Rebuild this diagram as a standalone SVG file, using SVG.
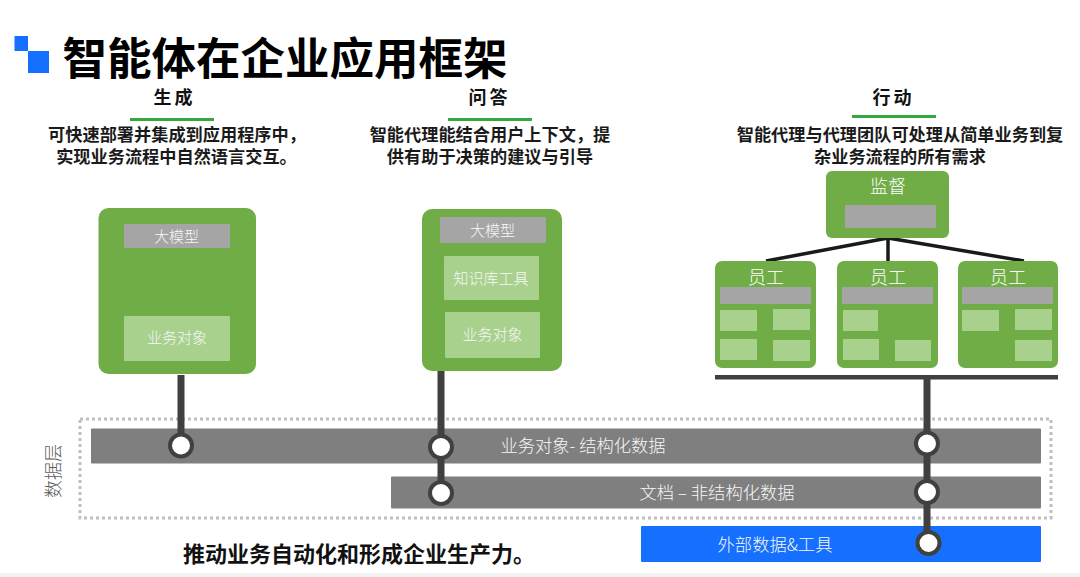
<svg xmlns="http://www.w3.org/2000/svg" width="1080" height="577" viewBox="0 0 1080 577">
<style>
text{font-family:"Noto Sans CJK SC","Noto Sans",sans-serif;text-anchor:middle;dominant-baseline:central}
.title{font-size:44.500px;font-weight:700;fill:#000}
.head{font-size:18px;font-weight:700;fill:#111;letter-spacing:3px}
.desc{font-size:17.200px;font-weight:700;fill:#1a1a1a}
.lab{font-size:15px;fill:#f7f7f7;font-weight:300}
.cap{font-size:18px;fill:#fff;font-weight:300}
.bar{font-size:17.300px;fill:#f7f7f7;font-weight:300}
.g{fill:#70ad47}
.gray{fill:#a5a5a5}
.lt{fill:#a9d18e}
.db{fill:#7f7f7f}
.ul{fill:#33a83f}
.stem{stroke:#404040;stroke-width:7;fill:none}
.branch{stroke:#1a1a1a;stroke-width:3.5;fill:none}
.dot{fill:#fff;stroke:#404040;stroke-width:4}
</style>
<rect width="1080" height="577" fill="#fff"/>
<rect x="0" y="573" width="1080" height="4" fill="#f2f2f2"/>
<g id="logo"><rect x="14.500" y="36" width="13.500" height="15" fill="#1570ff"/><rect x="28" y="51" width="21" height="22" fill="#1570ff"/></g>
<text class="title" x="285" y="55">智能体在企业应用框架</text>
<g id="col-generate"><text class="head" x="174.500" y="96">生成</text><rect class="ul" x="130" y="118" width="84" height="3"/>
<text class="desc"><tspan x="177" y="133">可快速部署并集成到应用程序中，</tspan><tspan x="176.500" y="154.500">实现业务流程中自然语言交互。</tspan></text></g>
<g id="col-qa"><text class="head" x="489.500" y="96">问答</text><rect class="ul" x="448" y="118" width="84" height="3"/>
<text class="desc"><tspan x="490" y="133">智能代理能结合用户上下文，提</tspan><tspan x="490" y="154.500">供有助于决策的建议与引导</tspan></text></g>
<g id="col-action"><text class="head" x="893.500" y="96">行动</text><rect class="ul" x="852" y="115" width="84" height="3"/>
<text class="desc"><tspan x="900" y="133">智能代理与代理团队可处理从简单业务到复</tspan><tspan x="900" y="154.500">杂业务流程的所有需求</tspan></text></g>
<g id="data-layer"><rect x="80" y="419" width="971" height="99" fill="none" stroke="#bfbfbf" stroke-width="3" stroke-dasharray="3 3"/>
<text x="52" y="471" transform="rotate(-90 52 471)" font-size="18" fill="#595959" font-weight="300">数据层</text></g>
<g id="bar-structured"><rect class="db" x="91" y="428.500" width="950" height="35" rx="1"/><text class="bar" x="583" y="444">业务对象- 结构化数据</text></g>
<g id="bar-docs"><rect class="db" x="391" y="476.500" width="650" height="32" rx="1"/><text class="bar" x="717" y="491">文档 – 非结构化数据</text></g>
<g id="bar-external"><rect x="641" y="526" width="400" height="36" rx="1" fill="#1570ff"/><text class="bar" x="775" y="543">外部数据&amp;工具</text></g>
<g id="node-gen"><rect class="g" x="98.500" y="208" width="157.500" height="166" rx="10"/><rect class="gray" x="124" y="224" width="106" height="24"/><text class="lab" x="176.500" y="235">大模型</text><rect class="lt" x="124" y="316" width="106" height="45" rx="1"/><text class="lab" x="177" y="336">业务对象</text></g>
<g id="node-qa"><rect class="g" x="422" y="209" width="140" height="162" rx="10"/><rect class="gray" x="440" y="217" width="106" height="26"/><text class="lab" x="492.500" y="229">大模型</text><rect class="lt" x="444" y="256" width="95" height="44" rx="1"/><text class="lab" x="491" y="277">知识库工具</text><rect class="lt" x="445" y="312" width="95" height="46" rx="1"/><text class="lab" x="492.500" y="333">业务对象</text></g>
<g id="connectors">
<path class="branch" d="M888 238L766 261M888 238V261M888 238L1024 261"/>
<rect x="715" y="375" width="343" height="4.500" fill="#404040"/>
<path class="stem" d="M181 375V445M441 371V493M927 379V543"/>
</g>
<g id="supervisor"><rect class="g" x="826" y="171" width="123" height="67" rx="6"/><rect class="gray" x="845" y="205" width="91" height="23"/><text class="cap" x="888" y="185">监督</text></g>
<g id="worker-1"><rect class="g" x="715" y="261" width="101" height="107" rx="7"/><text class="cap" x="766" y="276">员工</text><rect class="gray" x="720" y="287" width="91" height="17"/><rect class="lt" x="720" y="310" width="37" height="21"/><rect class="lt" x="773" y="309" width="37" height="21"/><rect class="lt" x="720" y="339" width="37" height="21"/><rect class="lt" x="773" y="340" width="37" height="21"/></g>
<g id="worker-2"><rect class="g" x="837" y="261" width="101" height="107" rx="7"/><text class="cap" x="888" y="276">员工</text><rect class="gray" x="842" y="287" width="91" height="17"/><rect class="lt" x="843" y="310" width="35" height="21"/><rect class="lt" x="843" y="339" width="36" height="21"/><rect class="lt" x="895" y="340" width="36" height="21"/></g>
<g id="worker-3"><rect class="g" x="958" y="261" width="100" height="107" rx="7"/><text class="cap" x="1008" y="276">员工</text><rect class="gray" x="962" y="287" width="91" height="17"/><rect class="lt" x="962" y="310" width="37" height="21"/><rect class="lt" x="1015" y="309" width="37" height="21"/><rect class="lt" x="1015" y="340" width="37" height="21"/></g>
<g id="junctions">
<circle class="dot" cx="181" cy="445.500" r="11"/><circle class="dot" cx="441" cy="447" r="11"/><circle class="dot" cx="441" cy="493" r="11"/><circle class="dot" cx="927" cy="443.500" r="11"/><circle class="dot" cx="927" cy="492" r="11"/><circle class="dot" cx="928.500" cy="543" r="11"/>
</g>
<text x="359" y="552" font-size="22" font-weight="700" fill="#111">推动业务自动化和形成企业生产力。</text>
</svg>
